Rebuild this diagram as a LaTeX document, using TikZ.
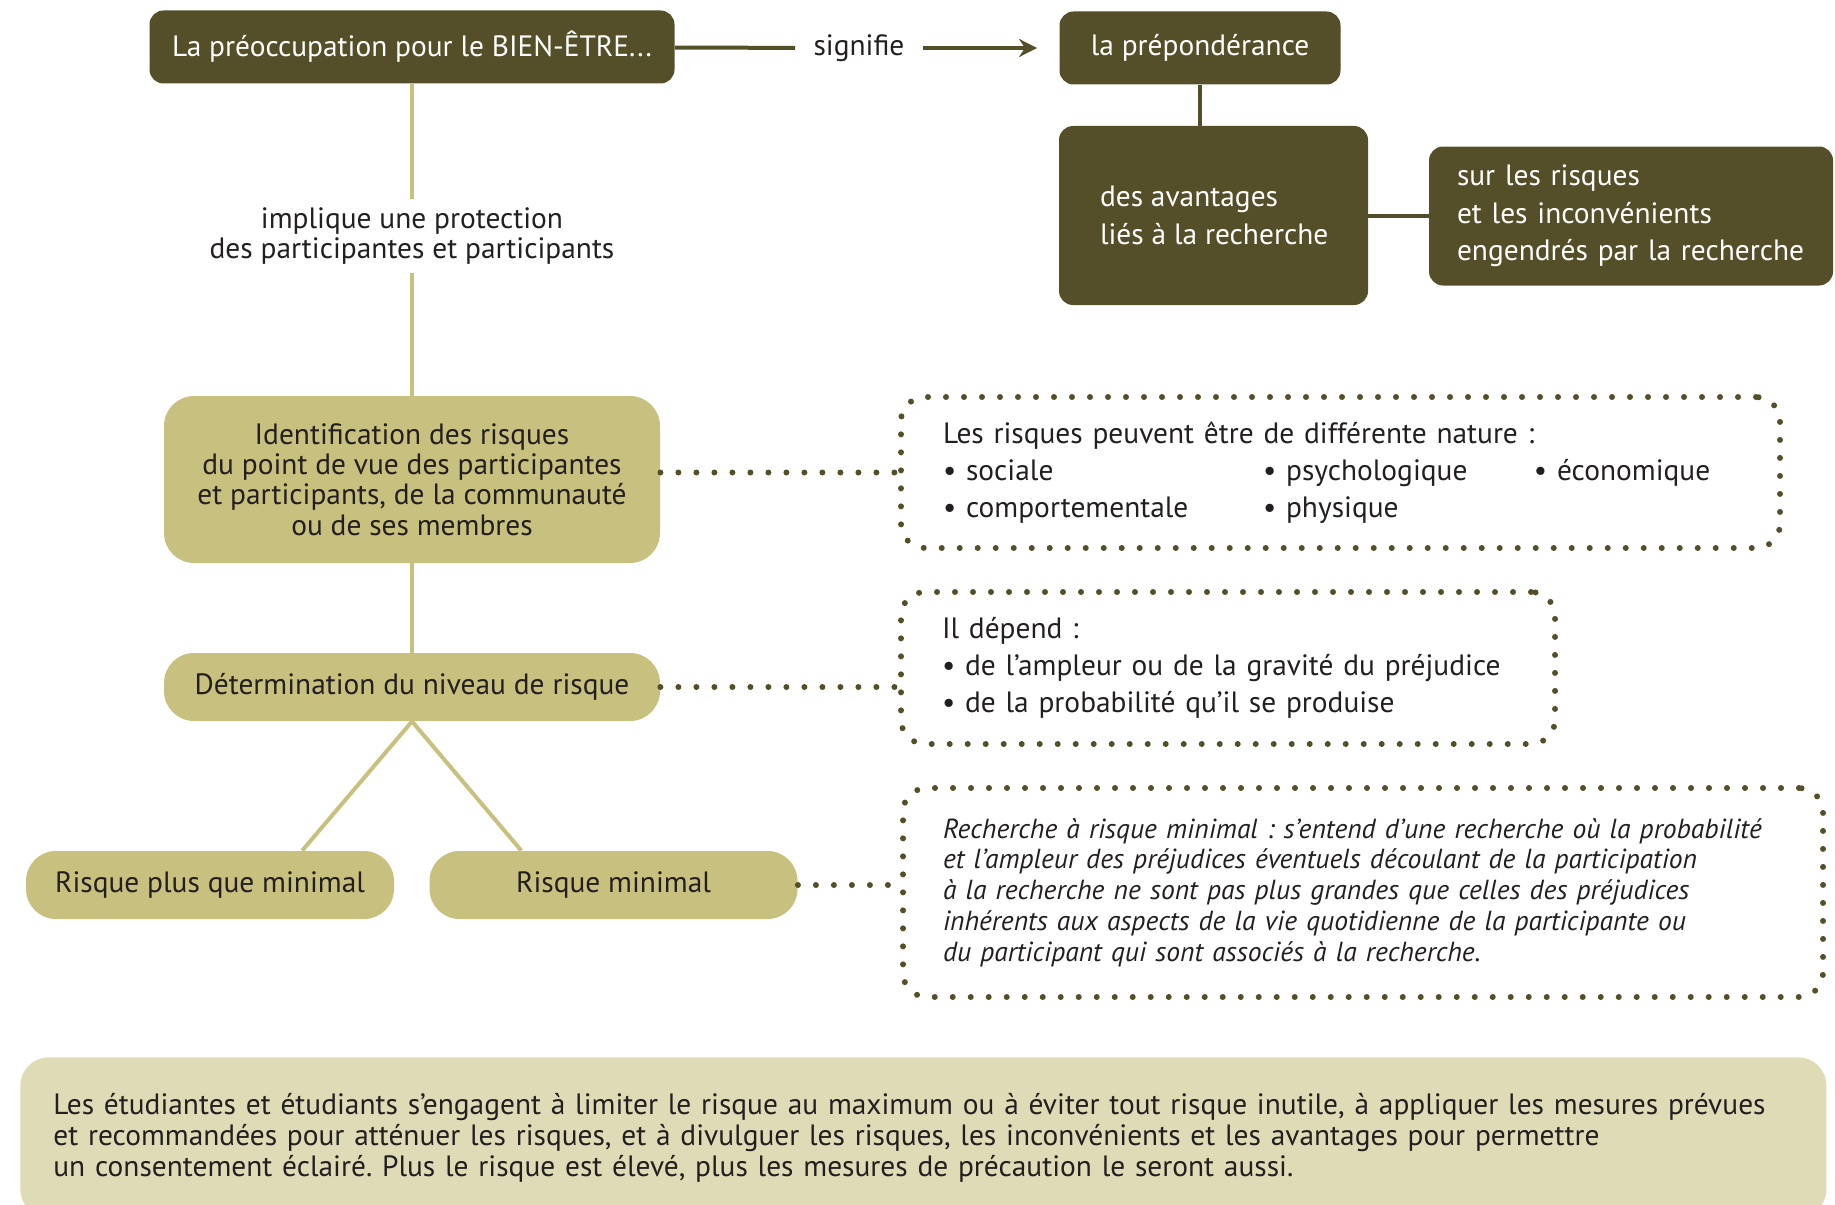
\documentclass[tikz,border=0pt]{standalone}
\usepackage{fontspec}
\setmainfont{PT Sans}
\usepackage{tikz}
\usetikzlibrary{positioning, arrows, arrows.meta, calc}

\definecolor{olive}{HTML}{544F28}
\definecolor{khaki}{HTML}{C8C07E}
\definecolor{sand}{HTML}{DFDBB7}
\definecolor{ink}{HTML}{231F20}

\tikzset{
  darkbox/.style={fill=olive, text=white, rounded corners=7pt, inner sep=0pt},
  lightbox/.style={fill=khaki, text=ink, rounded corners=15pt, inner sep=0pt, align=center},
  dotbox/.style={draw=olive, line width=3pt, line cap=round, dash pattern=on 0pt off 9pt,
    rounded corners=12pt, text=ink, align=left},
  dotlink/.style={draw=olive, line width=3pt, line cap=round, dash pattern=on 0pt off 9pt},
  darklink/.style={draw=olive, line width=2pt},
  lightlink/.style={draw=khaki, line width=2pt},
}

\begin{document}
\frenchspacing
\begin{tikzpicture}[x=0.5pt, y=-0.5pt, font=\fontsize{14.7}{15.2}\selectfont]
    \useasboundingbox (0,0) rectangle (1835,1204);

    % Define nodes
    \node[darkbox, minimum width=262.5pt, minimum height=36.5pt] (pre) at (412,47) {La préoccupation pour le BIEN-ÊTRE...};
    \node[text=ink, inner sep=9pt] (sig) at (859,48) {signifie};
    \node[darkbox, minimum width=140.5pt, minimum height=36.5pt] (prep) at (1200,48) {la prépondérance};
    \node[darkbox, minimum width=154.5pt, minimum height=89.5pt, align=left,
          inner xsep=20.5pt, font=\fontsize{14.7}{18.7}\selectfont] (avant) at (1213.5,215.5)
      {\makebox[113.5pt][l]{des avantages}\\\makebox[113.5pt][l]{liés à la recherche}};
    \node[darkbox, minimum width=202pt, minimum height=69.5pt, align=left,
          text width=174pt, inner xsep=14pt, font=\fontsize{14.7}{18.7}\selectfont] (incon) at (1631,216)
      {sur les risques\\et les inconvénients\\engendrés par la recherche};

    \node[text=ink, align=center, inner sep=4pt] (impl) at (412,236) {implique une protection\\des participantes et participants};

    \node[lightbox, minimum width=248pt, minimum height=83.5pt] (ident) at (412,479.5)
      {Identification des risques\\du point de vue des participantes\\et participants, de la communauté\\ou de ses membres};
    \node[lightbox, minimum width=248pt, minimum height=34pt] (determ) at (412,687) {Détermination du niveau de risque};
    \node[lightbox, minimum width=184pt, minimum height=34pt] (rplus) at (210,885) {Risque plus que minimal};
    \node[lightbox, minimum width=184pt, minimum height=34pt] (rmin) at (613.5,885) {Risque minimal};

    \node[dotbox, minimum width=439.5pt, minimum height=75.5pt, text width=397.5pt, inner xsep=21pt,
          font=\fontsize{14.7}{18.4}\selectfont] (nat) at (1340.5,472.5)
      {Les risques peuvent être de différente nature :\\
       \makebox[160pt][l]{• sociale}\makebox[135.5pt][l]{• psychologique}• économique\\
       \makebox[160pt][l]{• comportementale}• physique};
    \node[dotbox, minimum width=327pt, minimum height=76pt, text width=286pt, inner xsep=20.5pt,
          font=\fontsize{14.7}{18.4}\selectfont] (dep) at (1228,668)
      {Il dépend :\\
       • de l’ampleur ou de la gravité du préjudice\\
       • de la probabilité qu’il se produise};
    \node[dotbox, minimum width=460pt, minimum height=104.5pt, text width=420pt, inner xsep=20pt,
          font=\fontsize{13.8}{15.4}\selectfont\itshape] (defn) at (1363,892.5)
      {Recherche à risque minimal : s’entend d’une recherche où la probabilité\\
       et l’ampleur des préjudices éventuels découlant de la participation\\
       à la recherche ne sont pas plus grandes que celles des préjudices\\
       inhérents aux aspects de la vie quotidienne de la participante ou\\
       du participant qui sont associés à la recherche.};

    \node[fill=sand, text=ink, rounded corners=14pt, anchor=north west, align=left,
          minimum width=903pt, minimum height=80pt, text width=870pt, inner xsep=16.5pt,
          font=\fontsize{14.7}{15.5}\selectfont] (engage) at (20,1057)
      {Les étudiantes et étudiants s’engagent à limiter le risque au maximum ou à éviter tout risque inutile, à appliquer les mesures prévues\\
       et recommandées pour atténuer les risques, et à divulguer les risques, les inconvénients et les avantages pour permettre\\
       un consentement éclairé. Plus le risque est élevé, plus les mesures de précaution le seront aussi.};

    % Draw links
    \draw[darklink] (pre) -- (sig);
    \draw[darklink, -{Stealth[length=9pt, width=9pt]}, shorten >=11pt] (sig) -- (prep);
    \draw[darklink] (prep.south) -- (prep.south |- avant.north);
    \draw[darklink] (avant.east) -- (avant.east -| incon.west);
    \draw[lightlink] (pre) -- (impl);
    \draw[lightlink] (impl) -- (ident);
    \draw[lightlink] (ident) -- (determ);
    \draw[lightlink] (determ.south) -- ($(rplus.north)!0.5!(rplus.north east)$);
    \draw[lightlink] (determ.south) -- ($(rmin.north west)!0.5!(rmin.north)$);
    \draw[dotlink] (nat.west -| ident.east) -- (nat.west);
    \draw[dotlink] (determ.east) -- (determ.east -| dep.west);
    \draw[dotlink] (rmin.east) -- (rmin.east -| defn.west);
\end{tikzpicture}
\end{document}
